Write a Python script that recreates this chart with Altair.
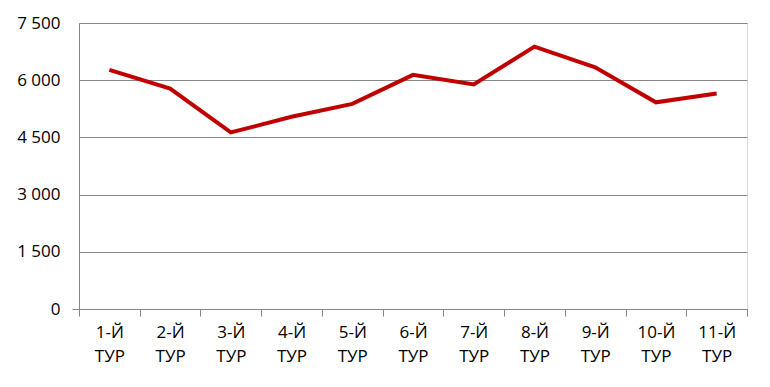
import altair as alt
import pandas as pd

rounds = ["1-Й ТУР", "2-Й ТУР", "3-Й ТУР", "4-Й ТУР", "5-Й ТУР", "6-Й ТУР",
          "7-Й ТУР", "8-Й ТУР", "9-Й ТУР", "10-Й ТУР", "11-Й ТУР"]
values = [6270, 5780, 4630, 5040, 5380, 6140, 5890, 6880, 6340, 5420, 5650]
y_ticks = [0, 1500, 3000, 4500, 6000, 7500]

df = pd.DataFrame({"round": rounds, "value": values})

FONT = "Open Sans"

chart = alt.Chart(df).mark_line(color="#C00000", strokeWidth=4, strokeJoin="miter").encode(
    x=alt.X("round:N", sort=rounds, title=None,
            scale=alt.Scale(type="band", paddingInner=0, paddingOuter=0),
            axis=alt.Axis(labelAngle=0, tickBand="extent", tickSize=7, tickColor="#868686",
                          domainColor="#868686", labelPadding=8, labelFont=FONT, labelFontSize=17,
                          labelColor="#000000", labelLineHeight=24, labelBaseline="top",
                          labelExpr="split(datum.label, ' ')", grid=False)),
    y=alt.Y("value:Q", title=None,
            scale=alt.Scale(domain=[0, 7500], nice=False),
            axis=alt.Axis(values=y_ticks, ticks=True, tickSize=7, tickColor="#868686",
                          tickOpacity={"condition": {"test": "datum.value == 0", "value": 1}, "value": 0},
                          domainColor="#868686", gridColor="#868686",
                          gridWidth=1, labelPadding=12, labelFont=FONT, labelFontSize=17,
                          labelColor="#000000",
                          labelExpr="replace(format(datum.value, ','), ',', ' ')")),
).properties(
    width=668, height=286,
    autosize=alt.AutoSizeParams(type="none"),
    padding={"left": 71, "top": 15, "right": 15, "bottom": 70},
).configure_view(stroke=None).configure(background="white")

chart.save("out.html", embed_options={"renderer": "svg", "actions": False})
